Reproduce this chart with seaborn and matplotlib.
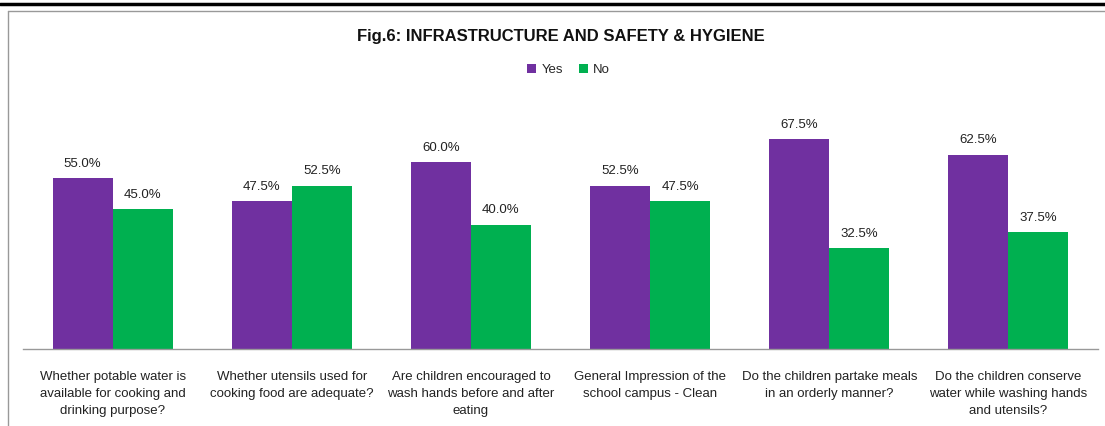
import pandas as pd
import matplotlib.pyplot as plt
from matplotlib.lines import Line2D
import seaborn as sns

categories = [
    "Whether potable water is\navailable for cooking and\ndrinking purpose?",
    "Whether utensils used for\ncooking food are adequate?",
    "Are children encouraged to\nwash hands before and after\neating",
    "General Impression of the\nschool campus - Clean",
    "Do the children partake meals\nin an orderly manner?",
    "Do the children conserve\nwater while washing hands\nand utensils?",
]
yes_values = [55.0, 47.5, 60.0, 52.5, 67.5, 62.5]
no_values = [45.0, 52.5, 40.0, 47.5, 32.5, 37.5]
series = ["Yes", "No"]
colors = {"Yes": "#7030A0", "No": "#00B050"}

df = pd.DataFrame({
    "category": categories * 2,
    "series": ["Yes"] * len(categories) + ["No"] * len(categories),
    "value": yes_values + no_values,
})

sns.set_theme(style="white")
plt.rcParams["font.family"] = ["Liberation Sans", "DejaVu Sans"]

fig = plt.figure(figsize=(11.05, 4.26), dpi=100)
ax = fig.add_axes([0.0208, 0.1808, 0.9729, 0.584])

sns.barplot(data=df, x="category", y="value", hue="series", hue_order=series,
            palette=colors, width=0.67, saturation=1, linewidth=0, ax=ax, legend=True)

for container in ax.containers:
    ax.bar_label(container, fmt="%.1f%%", padding=6, fontsize=9.5, color="#222222")

ax.set_ylim(0, 80)
ax.set_xlim(-0.5, len(categories) - 0.5)
ax.set_yticks([])
ax.set_xlabel("")
ax.set_ylabel("")
for side in ["top", "left", "right"]:
    ax.spines[side].set_visible(False)
ax.spines["bottom"].set_color("#999999")
ax.spines["bottom"].set_linewidth(1)
ax.tick_params(axis="x", length=0, pad=16, labelsize=9.5, labelcolor="#222222")
for lbl in ax.get_xticklabels():
    lbl.set_linespacing(1.55)

ax.legend(loc="center", bbox_to_anchor=(0.5075, 1.12), ncol=2,
          frameon=False, fontsize=9.5, handlelength=0.7, handleheight=0.7,
          columnspacing=1.2, handletextpad=0.4, bbox_transform=ax.transAxes)

fig.suptitle("Fig.6: INFRASTRUCTURE AND SAFETY & HYGIENE", x=0.508, y=0.915, va="center",
             fontsize=12, fontweight="bold", color="#111111")

# page borders
fig.add_artist(Line2D([0, 1], [0.990, 0.990], color="black", linewidth=2.5, transform=fig.transFigure))
fig.add_artist(Line2D([0.0072, 1], [0.974, 0.974], color="#999999", linewidth=1, transform=fig.transFigure))
fig.add_artist(Line2D([0.0072, 0.0072], [0, 0.974], color="#999999", linewidth=1, transform=fig.transFigure))

fig.savefig("out.png", dpi=100)
